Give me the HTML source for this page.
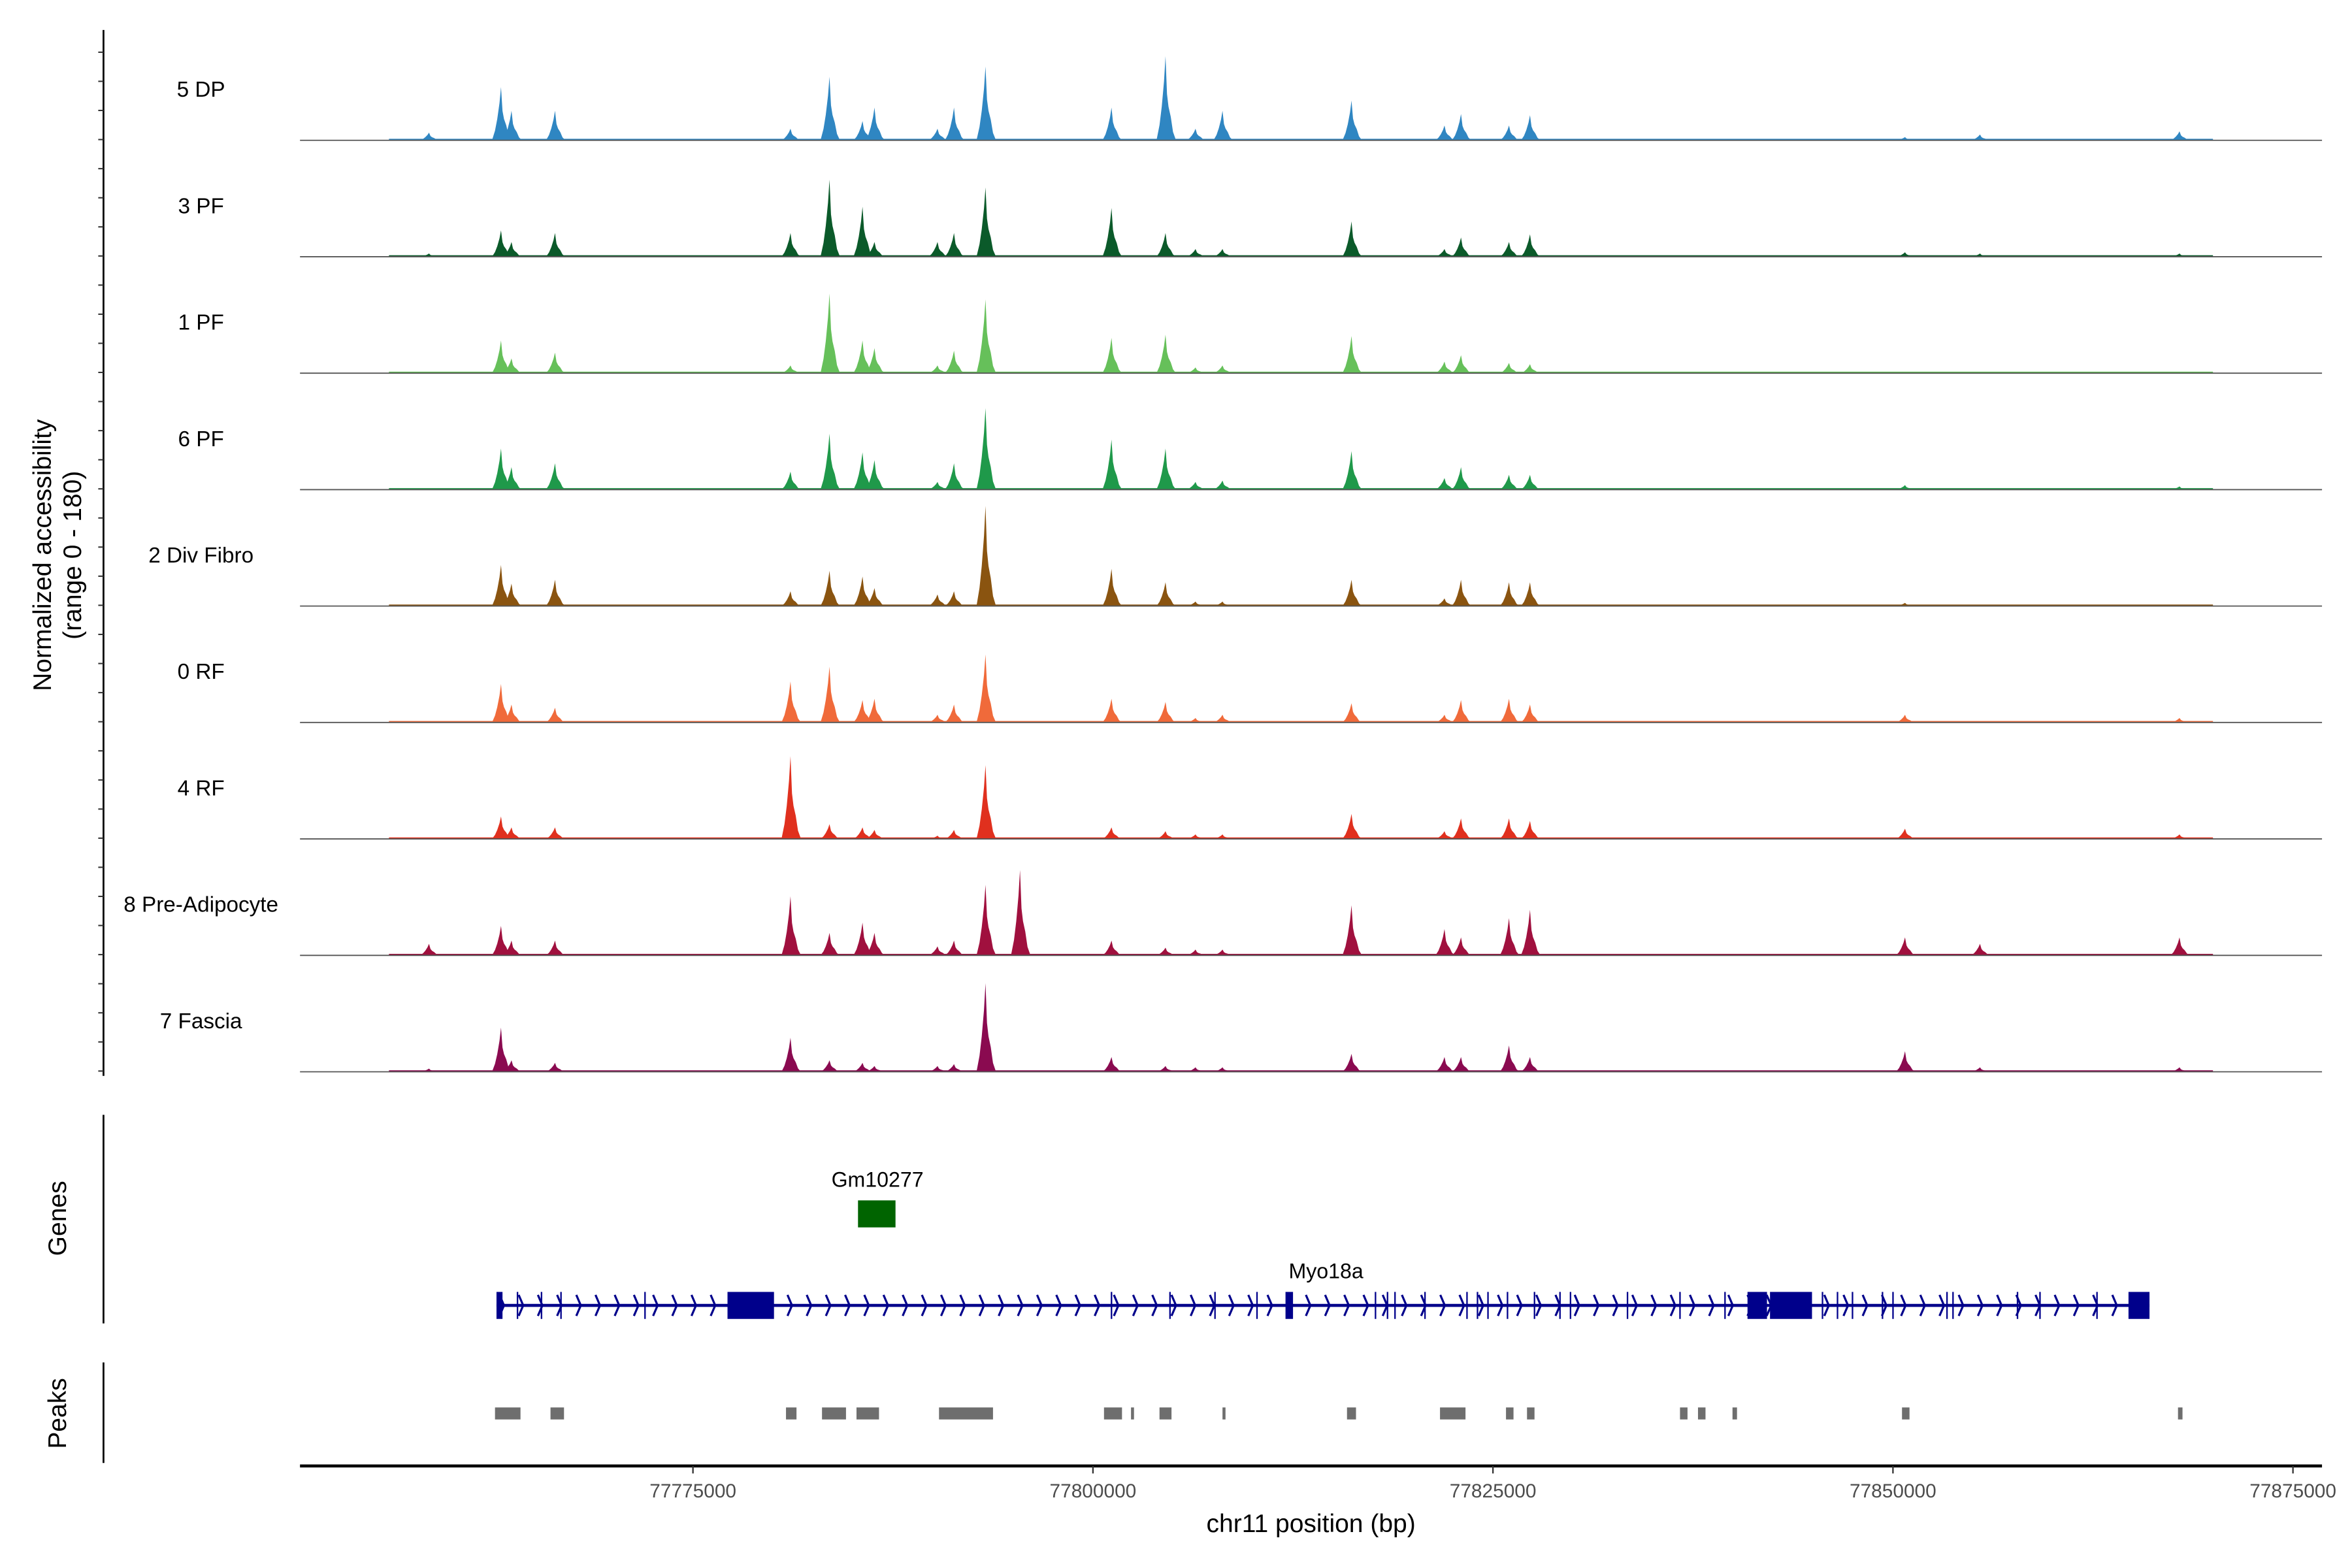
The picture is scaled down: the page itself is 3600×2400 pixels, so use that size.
<!DOCTYPE html>
<html><head><meta charset="utf-8"><style>
html,body{margin:0;padding:0;background:#fff;}
svg{display:block;font-family:"Liberation Sans",Arial,sans-serif;}
</style></head><body>
<svg id="chart" width="3600" height="2400" viewBox="0 0 1568 1045" preserveAspectRatio="none" xmlns="http://www.w3.org/2000/svg"></svg>
<script>
// ---- data ----
const trackNames = ["5 DP","3 PF","1 PF","6 PF","2 Div Fibro","0 RF","4 RF","8 Pre-Adipocyte","7 Fascia"];
const trackColors = ["#2f86c2","#0b5a2a","#66c05a","#1f994a","#8a5410","#f06a3a","#e0301e","#a0103e","#8a0a50"];
const peakPositions = [77758503,77763003,77763659,77766378,77781096,77783534,77785597,77786346,77790284,77791315,77793284,77795440,77801159,77804534,77806409,77808096,77816159,77821971,77823003,77826003,77827315,77850753,77855440,77867909];
const dpValues =      [12,83,46,46,18,99,30,51,18,51,115,0,51,131,18,46,62,23,41,23,39,5,9,14];
const pf3Values =     [5,41,23,37,37,120,78,23,23,37,108,0,76,37,12,12,55,12,30,23,35,7,5,5];
const pf1Values =     [2,51,23,32,12,124,51,39,12,35,115,0,55,60,9,12,58,18,28,16,14,2,2,2];
const pf6Values =     [2,64,35,41,28,87,58,46,12,41,127,0,78,64,12,14,60,18,35,23,23,7,2,5];
const divValues =     [2,64,35,41,23,55,46,28,18,23,156,0,58,37,7,7,41,12,41,37,37,5,2,2];
const rf0Values =     [2,60,28,23,64,87,35,37,12,28,106,0,37,32,7,12,30,12,35,37,28,12,2,7];
const rf4Values =     [2,35,18,18,129,23,18,14,5,14,115,0,18,12,7,7,39,12,32,32,28,16,2,7];
const preValues =     [18,46,23,23,92,35,51,35,14,23,110,133,23,12,9,9,78,41,28,58,71,28,18,28];
const fasciaValues =  [5,69,18,14,53,18,14,9,9,12,138,0,23,9,7,7,28,23,23,41,23,32,7,7];
const trackValues = [dpValues,pf3Values,pf1Values,pf6Values,divValues,rf0Values,rf4Values,preValues,fasciaValues];
const xTicks = [77775000,77800000,77825000,77850000,77875000];
const peakStarts = [77762628,77766096,77780815,77783065,77785221,77790378,77800690,77802378,77804159,77808096,77815878,77821690,77825815,77827128,77836690,77837815,77839971,77850565,77867815];
const peakEnds =   [77764221,77766940,77781471,77784565,77786628,77793753,77801815,77802565,77804909,77808284,77816440,77823284,77826284,77827596,77837159,77838284,77840253,77851034,77868096];
const geneStart = 77762721, geneEnd = 77866034;
const exonStarts = [77762721,77777159,77812034,77840909,77842315,77864721];
const exonEnds =   [77763096,77780065,77812503,77842128,77844940,77866034];
const thinExons = [77764034,77765534,77766753,77772003,77801159,77804815,77807628,77810253,77817659,77818409,77818878,77820753,77823378,77824034,77824690,77825909,77827596,77829190,77829846,77833409,77836690,77839503,77845596,77846534,77847471,77849346,77850003,77853378,77853753,77857784,77859190,77862753];
const gmStart = 77785315, gmEnd = 77787659;

// ---- scales ----
const X0 = 200, BP0 = 77750440, PXPERBP = 1/93.75;
const xs = bp => X0 + (bp - BP0) * PXPERBP;
const baseY0 = 93.5, trackStep = 77.6, yPerUnit = 77/180;
const ys = (i, v) => baseY0 + i*trackStep - v*yPerUnit;

const NS = "http://www.w3.org/2000/svg";
const svg = document.getElementById('chart');
function mk(tag, attrs, parent){const e=document.createElementNS(NS,tag);for(const k in attrs)e.setAttribute(k,attrs[k]);(parent||svg).appendChild(e);return e;}

// left axis
const ax = mk('line',{x1:69,y1:20,x2:69,y2:717,stroke:'#000','stroke-width':1.2});


for(let y=34.8;y<=717;y+=19.4){
  const t=mk('line',{x1:65.5,y1:y,x2:69,y2:y,stroke:'#333','stroke-width':0.9});
  
  
}
const yt = mk('text',{transform:'translate(34,370) rotate(-90)','text-anchor':'middle','font-size':17});


yt.textContent='Normalized accessibility';
const yt2 = mk('text',{transform:'translate(54,370) rotate(-90)','text-anchor':'middle','font-size':17});


yt2.textContent='(range 0 - 180)';

// tracks
trackNames.forEach((name,i)=>{
  const g = mk('g',{});
  
  
  const lbl = mk('text',{x:134,y:ys(i,0)-29,'text-anchor':'middle','font-size':14.5},g);
  
  
  lbl.textContent=name;
  const base = ys(i,0);
  const nf = mk('rect',{x:xs(77756000),y:base-1,width:xs(77870000)-xs(77756000),height:1,fill:trackColors[i]},g);
  
  
  trackValues[i].forEach((v,j)=>{
    if(v<=0) return;
    const cx = xs(peakPositions[j]), ty = ys(i,v), h = base-ty;
    const pts = [[cx-6,base],[cx-4,base-h*0.18],[cx-2.5,base-h*0.4],[cx-1,base-h*0.7],[cx,ty],[cx+1,base-h*0.55],[cx+2,base-h*0.4],[cx+3.5,base-h*0.28],[cx+5,base-h*0.1],[cx+7,base]];
    const p = mk('polygon',{points:pts.map(q=>q.join(',')).join(' '),fill:trackColors[i]},g);
    
    
  });
  const bl = mk('line',{x1:200,y1:base,x2:1548,y2:base,stroke:'#555','stroke-width':0.8},g);
  
  
});

// genes panel
const ga = mk('line',{x1:69,y1:743,x2:69,y2:882,stroke:'#000','stroke-width':1.2});


const gt = mk('text',{transform:'translate(44,812) rotate(-90)','text-anchor':'middle','font-size':17});


gt.textContent='Genes';
const gml = mk('text',{x:585,y:791,'text-anchor':'middle','font-size':14});


gml.textContent='Gm10277';
const gmb = mk('rect',{x:xs(gmStart),y:800,width:xs(gmEnd)-xs(gmStart),height:18,fill:'#006400'});


const myl = mk('text',{x:884,y:852,'text-anchor':'middle','font-size':14});


myl.textContent='Myo18a';
const gl = mk('line',{x1:xs(geneStart),y1:870,x2:xs(geneEnd),y2:870,stroke:'#00008b','stroke-width':2});


let arr='';
for(let x=xs(geneStart)+2;x<xs(geneEnd)-3;x+=12.8){arr+=`M${x},863 L${x+3},870 L${x},877 `;}
const ap = mk('path',{d:arr,stroke:'#00008b','stroke-width':1.4,fill:'none'});


thinExons.forEach(b=>{
  const e=mk('line',{x1:xs(b),y1:861,x2:xs(b),y2:879,stroke:'#00008b','stroke-width':1});
  
  
});
exonStarts.forEach((s,k)=>{
  const e=mk('rect',{x:xs(s),y:861,width:Math.max(1.5,xs(exonEnds[k])-xs(s)),height:18,fill:'#00008b'});
  
  
});

// peaks panel
const pa = mk('line',{x1:69,y1:908,x2:69,y2:975,stroke:'#000','stroke-width':1.2});


const pt = mk('text',{transform:'translate(44,942) rotate(-90)','text-anchor':'middle','font-size':17});


pt.textContent='Peaks';
peakStarts.forEach((s,k)=>{
  const r=mk('rect',{x:xs(s),y:938,width:Math.max(1.5,xs(peakEnds[k])-xs(s)),height:8,fill:'#6e6e6e'});
  
  
});

// x axis
const xa = mk('line',{x1:200,y1:977,x2:1548,y2:977,stroke:'#000','stroke-width':2});


xTicks.forEach(t=>{
  const x=xs(t);
  const tk=mk('line',{x1:x,y1:977,x2:x,y2:982,stroke:'#333','stroke-width':1});
  
  
  const tl=mk('text',{x:x,y:998,'text-anchor':'middle','font-size':13,fill:'#4d4d4d'});
  
  
  tl.textContent=String(t);
});
const xt = mk('text',{x:874,y:1021,'text-anchor':'middle','font-size':17});


xt.textContent='chr11 position (bp)';
</script>
</body></html>
